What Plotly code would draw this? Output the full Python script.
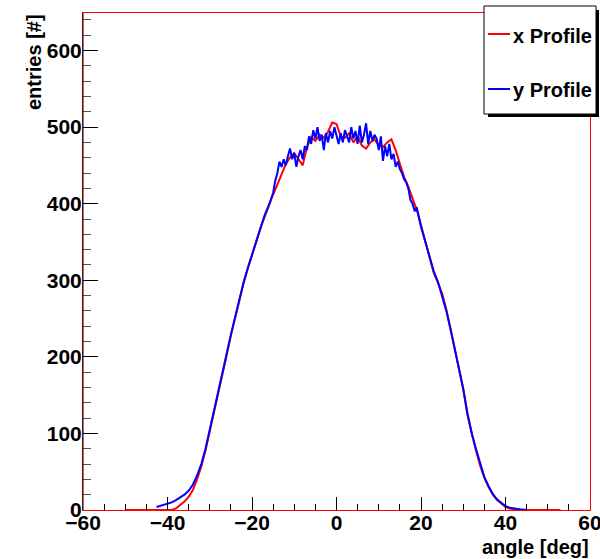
import plotly.graph_objects as go

# x Profile (red)
x_prof_angle = [-50, -39, -38, -37, -36, -35, -34, -33, -32, -31, -30, -29, -28, -27, -26, -25,
                -24, -23, -22, -21, -20, -19, -18, -17, -16, -15, -14, -13, -12, -11, -10, -9,
                -8, -7, -6, -5, -4, -3, -2, -1, 0, 1, 2, 3, 4, 5, 6, 7, 8, 9, 10, 11, 12, 13,
                14, 15, 16, 17, 18, 19, 20, 21, 22, 23, 24, 25, 26, 27, 28, 29, 30, 31, 32, 33,
                34, 35, 36, 37, 38, 39, 40, 41, 42, 43, 53]
x_prof_entries = [0, 0, 2, 6, 11, 17, 26, 40, 57, 78, 102, 128, 152, 177, 202, 228,
                  252, 275, 296, 315, 333, 350, 368, 383, 398, 412, 425, 438, 452, 460, 466, 458,
                  450, 474, 487, 482, 490, 486, 494, 506, 504, 488, 486, 492, 480, 488, 476, 472, 480, 484, 476, 474, 480, 484,
                  470, 452, 435, 422, 408, 392, 372, 352, 332, 310, 297, 283, 262, 236, 208, 182, 158, 124, 100, 78,
                  58, 42, 30, 20, 13, 8, 4, 2, 1, 0, 0]

# y Profile (blue)
y_prof_angle = [-42.6, -42, -41, -40, -39, -38, -37, -36, -35, -34, -33, -32, -31, -30, -29, -28,
                -27, -26, -25, -24, -23, -22, -21, -20, -19, -18, -17,
                -16, -15.5, -15, -14.5, -14, -13.5, -13, -12.5, -12, -11.5, -11, -10.5, -10, -9.5,
                -9, -8.5, -8, -7.5, -7, -6.5, -6, -5.5, -5, -4.5, -4, -3.5, -3, -2.5, -2, -1.5,
                -1, -0.5, 0, 0.5, 1, 1.5, 2, 2.5, 3, 3.5, 4, 4.5, 5, 5.5, 6, 6.5, 7, 7.5, 8, 8.5,
                9, 9.5, 10, 10.5, 11, 11.5, 12, 12.5, 13, 13.5, 14, 14.5, 15, 15.5, 16, 16.5, 17,
                17.5, 18, 18.5, 19, 20, 21, 22, 23, 24, 25, 26, 27, 28, 29, 30, 31, 32, 33, 34,
                35, 36, 37, 38, 39, 40, 41, 42, 43, 44, 45]
y_prof_entries = [4, 5, 6, 8, 10, 13, 16, 20, 25, 33, 45, 60, 80, 104, 130, 154,
                  178, 204, 229, 252, 276, 297, 316, 334, 352, 369, 385,
                  398, 405, 414, 430, 440, 455, 448, 458, 450, 462, 472, 458, 466, 448,
                  462, 470, 458, 475, 470, 488, 478, 496, 485, 500, 482, 490, 470, 492, 480, 495,
                  485, 500, 490, 478, 492, 480, 496, 488, 480, 500, 485, 495, 478, 502, 480, 490, 505, 478, 495, 482,
                  490, 485, 470, 488, 456, 475, 462, 478, 458, 465, 448, 455, 445, 440, 432, 428, 420,
                  405, 400, 390, 395, 370, 350, 330, 312, 298, 280, 260, 236, 210, 183, 158, 126, 100, 80, 60,
                  43, 31, 21, 14, 9, 5, 3, 2, 1, 0.5, 0]

x_tick_vals = [-60, -40, -20, 0, 20, 40, 60]
y_tick_vals = [0, 100, 200, 300, 400, 500, 600]
legend_labels = ["x Profile", "y Profile"]

FONT = "Liberation Sans"

fig = go.Figure()
fig.add_trace(go.Scatter(x=x_prof_angle, y=x_prof_entries, mode="lines", name=legend_labels[0],
                         line=dict(color="#ff0000", width=2)))
fig.add_trace(go.Scatter(x=y_prof_angle, y=y_prof_entries, mode="lines", name=legend_labels[1],
                         line=dict(color="#0000ff", width=2)))

tickfont = dict(family=FONT, size=21, color="black", weight="bold")

fig.update_layout(
    width=600, height=559,
    margin=dict(l=83, r=10, t=13, b=49),
    paper_bgcolor="white", plot_bgcolor="white",
    showlegend=False,
    xaxis=dict(range=[-60, 60], tickvals=x_tick_vals, ticks="inside", ticklen=13, tickwidth=1,
               tickcolor="black", showgrid=False, zeroline=False, showline=True,
               linecolor="#ff0000", linewidth=1, mirror=True, tickfont=tickfont,
               ticklabelstandoff=-6, ticklabeloverflow="allow", automargin=False,
               minor=dict(dtick=5, ticks="inside", ticklen=6, tickcolor="black", showgrid=False)),
    yaxis=dict(range=[0, 649], tickvals=y_tick_vals, ticks="inside", ticklen=15, tickwidth=1,
               tickcolor="black", showgrid=False, zeroline=False, showline=True,
               linecolor="#ff0000", linewidth=1, mirror=True, tickfont=tickfont,
               ticklabelstandoff=-4, ticklabeloverflow="allow", automargin=False,
               minor=dict(dtick=20, ticks="inside", ticklen=8, tickcolor="#555555", showgrid=False)),
)

# left frame dark edge
fig.add_shape(type="line", xref="paper", yref="paper", x0=0, x1=0, y0=0, y1=1,
              line=dict(color="black", width=1))

pw, ph = 600 - 83 - 10, 559 - 13 - 49
def px(x):
    return (x - 83) / pw
def py(y):
    return (559 - 49 - y) / ph

# legend box with shadow
fig.add_shape(type="rect", xref="paper", yref="paper", x0=px(488), x1=px(599), y0=py(117), y1=py(10),
              fillcolor="black", line=dict(width=0), layer="above")
fig.add_shape(type="rect", xref="paper", yref="paper", x0=px(484), x1=px(596), y0=py(114), y1=py(6),
              fillcolor="white", line=dict(color="black", width=1), layer="above")
fig.add_shape(type="line", xref="paper", yref="paper", x0=px(488), x1=px(510), y0=py(34), y1=py(34),
              line=dict(color="#ff0000", width=2), layer="above")
fig.add_shape(type="line", xref="paper", yref="paper", x0=px(488), x1=px(510), y0=py(89), y1=py(89),
              line=dict(color="#0000ff", width=2), layer="above")
for label, yy in zip(legend_labels, [36, 90]):
    fig.add_annotation(text=label, xref="paper", yref="paper", x=px(511), y=py(yy),
                       xanchor="left", yanchor="middle", showarrow=False,
                       font=dict(family=FONT, size=20, color="black", weight="bold"))

# axis titles
fig.add_annotation(text="angle [deg]", xref="paper", yref="paper", x=px(591), y=py(547),
                   xanchor="right", yanchor="middle", showarrow=False,
                   font=dict(family=FONT, size=20, color="black", weight="bold"))
fig.add_annotation(text="entries [#]", xref="paper", yref="paper", x=px(34), y=py(12),
                   xanchor="center", yanchor="top", textangle=-90, showarrow=False,
                   font=dict(family=FONT, size=20, color="black", weight="bold"))

fig.write_html("out.html", config={"displayModeBar": False},
               post_script="document.body.style.margin='0';document.body.style.overflow='hidden';"
                           "document.documentElement.style.overflow='hidden';")
